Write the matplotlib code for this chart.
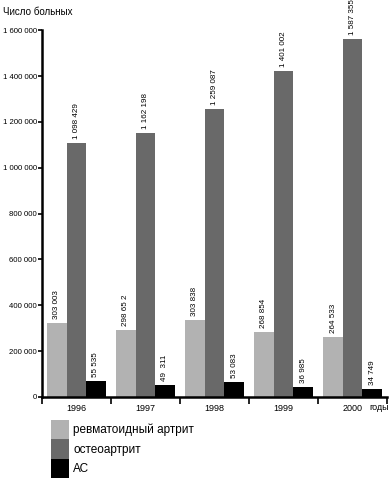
import matplotlib
matplotlib.use('Agg')
import matplotlib.pyplot as plt
import numpy as np

plt.rcParams['font.family'] = ['Liberation Sans', 'DejaVu Sans']

years = ['1996', '1997', '1998', '1999', '2000']
series = ['ревматоидный артрит', 'остеоартрит', 'АС']
colors = ['#b2b2b2', '#696969', '#000000']

# bar heights as drawn in the picture
ra = [322000, 292000, 336000, 283000, 262000]
oa = [1107000, 1150000, 1256000, 1421000, 1561000]
ac = [70000, 52000, 65000, 44000, 35000]

# printed value labels
ra_lbl = ['303 003', '298 65 2', '303 838', '268 854', '264 533']
oa_lbl = ['1 098 429', '1 162 198', '1 259 087', '1 401 002', '1 587 355']
ac_lbl = ['55 535', '49  311', '53 083', '36 985', '34 749']

fig = plt.figure(figsize=(3.91, 4.8), dpi=100)
ax = fig.add_axes([0.107, 0.173, 0.883, 0.764])

x = np.arange(len(years))
w = 0.283
for i, (vals, lbls) in enumerate([(ra, ra_lbl), (oa, oa_lbl), (ac, ac_lbl)]):
    bars = ax.bar(x + (i - 1) * w, vals, w, color=colors[i], label=series[i])
    for b, t in zip(bars, lbls):
        ax.annotate(t, (b.get_x() + b.get_width() / 2, b.get_height()),
                    xytext=(0, 3), textcoords='offset points',
                    rotation=90, ha='center', va='bottom', fontsize=5.8)

ax.set_xlim(-0.5, 4.5)
ax.set_ylim(0, 1600000)
yt = np.arange(0, 1600001, 200000)
ax.set_yticks(yt)
ax.set_yticklabels(['0'] + ['{:,}'.format(v).replace(',', ' ') for v in yt[1:]], fontsize=5.6)
ax.set_xticks(x)
ax.set_xticklabels(years, fontsize=6.5)
ax.set_xticks(np.arange(-0.5, 5, 1), minor=True)
ax.tick_params(axis='x', which='major', length=0, pad=5)
ax.tick_params(axis='x', which='minor', length=5, width=1.2, direction='out')
ax.tick_params(axis='y', length=3, width=1.2, pad=0.5)

for s in ['top', 'right']:
    ax.spines[s].set_visible(False)
ax.spines['left'].set_linewidth(1.8)
ax.spines['bottom'].set_linewidth(1.8)

fig.text(0.008, 0.975, 'Число больных', fontsize=7, va='center', ha='left')
fig.text(0.945, 0.152, 'годы', fontsize=6.5, va='center', ha='left')

ax.legend(loc='upper left', bbox_to_anchor=(0.13, 0.125),
          bbox_transform=fig.transFigure, frameon=False, fontsize=8.5,
          handlelength=1.55, handleheight=2.16, labelspacing=0, borderpad=0,
          handletextpad=0.35, borderaxespad=0)

fig.savefig('out.png', dpi=100)
